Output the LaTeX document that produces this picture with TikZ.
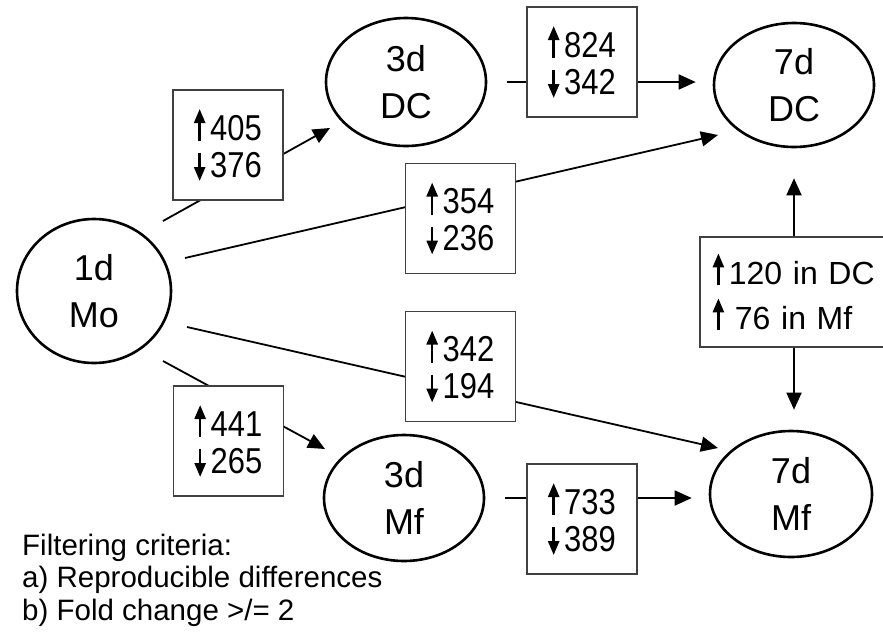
\documentclass[tikz,border=0pt]{standalone}
\usepackage{fontspec}
\setmainfont{Liberation Sans}
\newfontfamily\numfont[FakeStretch=0.86]{Liberation Sans}
\usetikzlibrary{shapes.geometric,arrows.meta}
\newcommand\upa{\tikz[baseline=0pt,x=1pt,y=1pt]\draw[black,line width=2.6pt,-{Triangle[length=14pt,width=11pt]}] (0,-1) -- (0,31);\hspace{5pt}}
\newcommand\dna{\tikz[baseline=0pt,x=1pt,y=1pt]\draw[black,line width=2.6pt,-{Triangle[length=14pt,width=11pt]}] (0,24) -- (0,-4);\hspace{5pt}}
\begin{document}
\begin{tikzpicture}[x=1pt,y=-1pt,
  stage/.style={ellipse, draw, line width=2.6pt, inner sep=0pt, align=center, font=\fontsize{36}{47}\selectfont},
  cnt/.style={draw=black!75, line width=1.8pt, fill=white, minimum width=110pt, minimum height=110pt, inner sep=0pt, align=center, font=\numfont\fontsize{36}{37}\selectfont},
  conn/.style={line width=1.8pt, -{Triangle[length=17pt,width=15pt]}},
  both/.style={line width=1.8pt, {Triangle[length=17pt,width=15pt]}-{Triangle[length=17pt,width=15pt]}},
  legend/.style={anchor=base west, inner sep=0pt, font=\fontsize{29.5}{33}\selectfont}]
\useasboundingbox (0,0) rectangle (883,632);
% stages
\node[stage, minimum width=154pt, minimum height=144pt] (mo)  at (94,291)  {1d\\Mo};
\node[stage, minimum width=160pt, minimum height=128pt] (dc3) at (406,82)  {3d\\DC};
\node[stage, minimum width=160pt, minimum height=124pt] (dc7) at (794,85)  {7d\\DC};
\node[stage, minimum width=160pt, minimum height=126pt] (mf3) at (404,498) {3d\\Mf};
\node[stage, minimum width=162pt, minimum height=126pt] (mf7) at (791,494) {7d\\Mf};
% free ends of connectors
\coordinate (s1) at (163,221); \coordinate (e1) at (330,128);
\coordinate (s2) at (185,258); \coordinate (e2) at (718,135);
\coordinate (s3) at (187,327); \coordinate (e3) at (718,448);
\coordinate (s4) at (163,361); \coordinate (e4) at (325,449);
% connectors
\draw[conn] (s1) -- (e1);
\draw[conn] (s2) -- (e2);
\draw[conn] (s3) -- (e3);
\draw[conn] (s4) -- (e4);
\draw[conn, shorten <=20pt, shorten >=17pt] (dc3.east) -- (dc3.east -| dc7.west);
\draw[conn, shorten <=20pt, shorten >=17pt] (mf3.east) -- (mf3.east -| mf7.west);
\draw[both, shorten <=30pt, shorten >=20pt] (dc7.south) -- (dc7.south |- mf7.north);
% count boxes
\node[cnt] (b405) at (228,145)     {\upa405\\\dna376};
\node[cnt] (b354) at (460.5,218.5) {\upa354\\\dna236};
\node[cnt] (b342) at (460.5,366.5) {\upa342\\\dna194};
\node[cnt] (b441) at (228.5,441)   {\upa441\\\dna265};
\node[cnt] (b824) at (582,62)      {\upa824\\\dna342};
\node[cnt] (b733) at (582,519)     {\upa733\\\dna389};
\node[cnt, anchor=north west, minimum width=0pt, text width=172pt, inner xsep=13pt, align=left, font=\fontsize{32}{45}\selectfont] (b120) at (699,236) {\upa120 in DC\\\upa\hspace{6pt}76 in Mf};
% legend
\node[legend] (l1) at (22,555) {Filtering criteria:};
\node[legend] (l2) at (22,587) {a) Reproducible differences};
\node[legend] (l3) at (22,620) {b) Fold change >/= 2};
\end{tikzpicture}
\end{document}
